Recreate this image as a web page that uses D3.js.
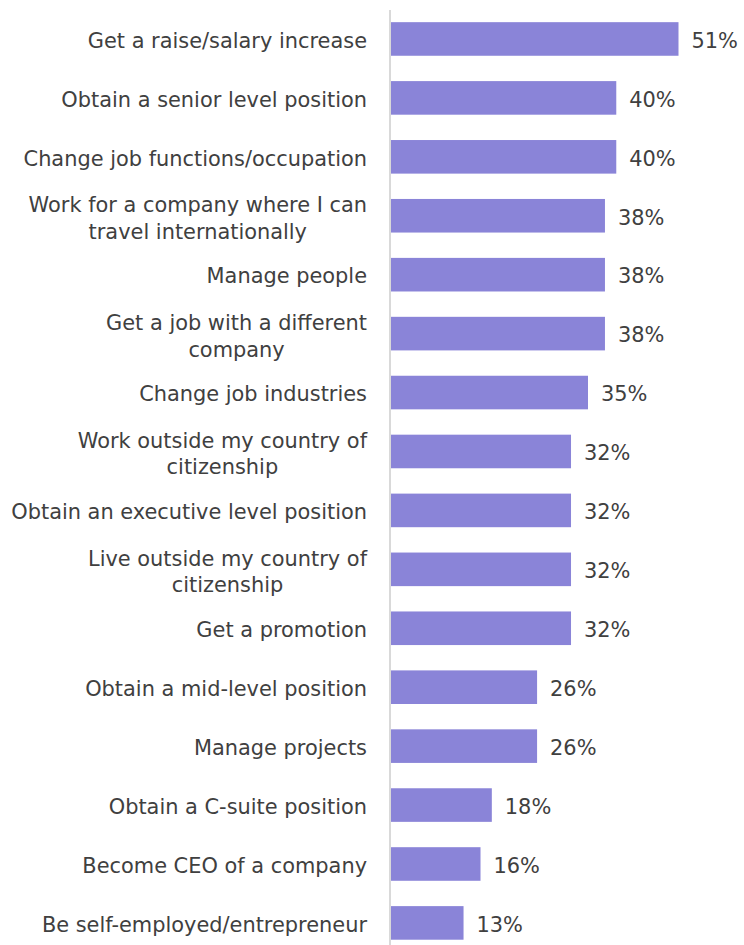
<!DOCTYPE html>
<html>
<head>
<meta charset="utf-8">
<script src="https://cdn.jsdelivr.net/npm/d3@7"></script>
<style>
  html, body { margin: 0; padding: 0; background: #fff; }
  svg { display: block; }
</style>
</head>
<body>
<svg id="chart" width="744" height="945"></svg>
<script>
const categories = [
  "Get a raise/salary increase",
  "Obtain a senior level position",
  "Change job functions/occupation",
  "Work for a company where I can\ntravel internationally",
  "Manage people",
  "Get a job with a different\ncompany",
  "Change job industries",
  "Work outside my country of\ncitizenship",
  "Obtain an executive level position",
  "Live outside my country of\ncitizenship",
  "Get a promotion",
  "Obtain a mid-level position",
  "Manage projects",
  "Obtain a C-suite position",
  "Become CEO of a company",
  "Be self-employed/entrepreneur"
];
const values = [51, 40, 40, 38, 38, 38, 35, 32, 32, 32, 32, 26, 26, 18, 16, 13];

const svg = d3.select("#chart");
const axisX = 390;
const fontFamily = "'DejaVu Sans', Verdana, sans-serif";
const fs = 20.9;

const x = d3.scaleLinear().domain([0, 51]).range([axisX, 678.5]);
const y = d3.scaleBand().domain(categories)
  .range([9.5, 9.5 + 58.93 * 16]).paddingInner(0.43).paddingOuter(0.215);

// axis line
svg.append("line")
  .attr("x1", axisX).attr("x2", axisX)
  .attr("y1", 10).attr("y2", 945)
  .attr("stroke", "#d9d9d9").attr("stroke-width", 2);

// bars
svg.selectAll("rect.bar").data(categories).join("rect")
  .attr("class", "bar")
  .attr("x", x(0) + 1)
  .attr("y", d => y(d))
  .attr("width", (d, i) => x(values[i]) - x(0) - 1)
  .attr("height", y.bandwidth())
  .attr("fill", "#8a84d8");

// value labels
svg.selectAll("text.val").data(categories).join("text")
  .attr("class", "val")
  .attr("x", (d, i) => x(values[i]) + 13)
  .attr("y", d => y(d) + y.bandwidth() / 2 + 8.8)
  .attr("font-family", fontFamily)
  .attr("font-size", fs)
  .attr("fill", "#404040")
  .text((d, i) => values[i] + "%");

// category labels
const lab = svg.selectAll("text.cat").data(categories).join("text")
  .attr("class", "cat")
  .attr("font-family", fontFamily)
  .attr("font-size", fs)
  .attr("fill", "#404040");

lab.each(function(d) {
  const lines = d.split("\n");
  const cy = y(d) + y.bandwidth() / 2;
  const t = d3.select(this);
  if (lines.length === 1) {
    t.append("tspan").attr("x", 367).attr("y", cy + 8.8)
      .attr("text-anchor", "end").text(lines[0]);
  } else {
    const first = t.append("tspan").attr("x", 367).attr("y", cy - 3.6)
      .attr("text-anchor", "end").text(lines[0]);
    const w = first.node().getComputedTextLength();
    t.append("tspan").attr("x", 367 - w / 2).attr("y", cy + 23)
      .attr("text-anchor", "middle").text(lines[1]);
  }
});
</script>
</body>
</html>
